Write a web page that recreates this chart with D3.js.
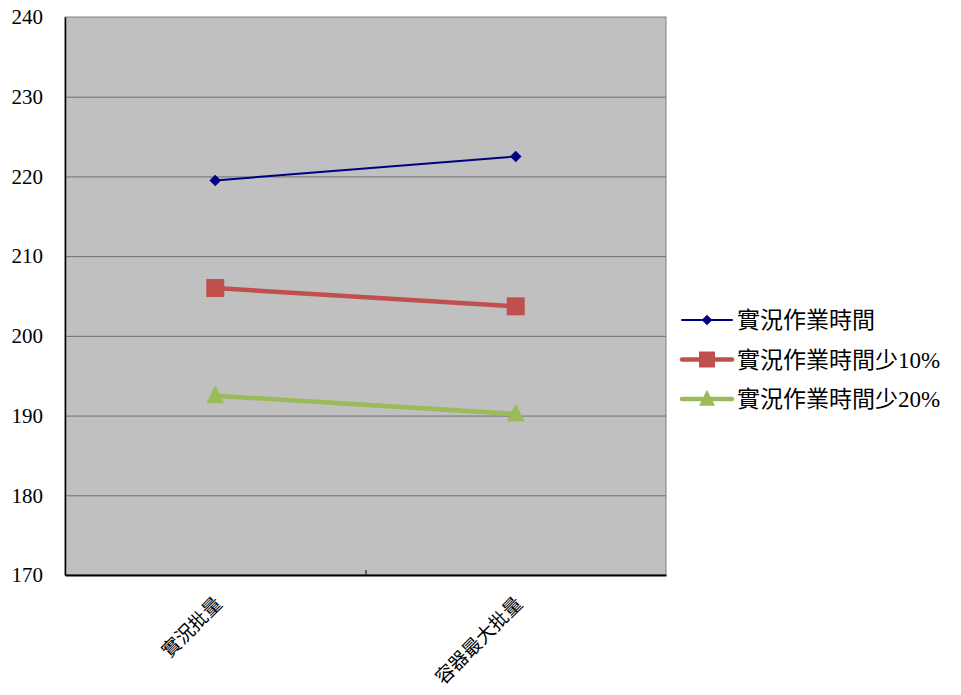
<!doctype html>
<html>
<head>
<meta charset="utf-8">
<style>
  body { margin: 0; background: #fff; }
  text { font-family: "Liberation Serif", "Noto Sans CJK TC", serif; fill: #000; }
  .ytick text { font-family: "Liberation Serif", "Times New Roman", "DejaVu Serif", serif !important; }
</style>
<script src="https://cdn.jsdelivr.net/npm/d3@7"></script>
</head>
<body>
<svg width="961" height="695"></svg>
<script>
var categories = ["實況批量", "容器最大批量"];
var seriesNames = ["實況作業時間", "實況作業時間少10%", "實況作業時間少20%"];
var actual = [219.5, 222.5];
var less10 = [206.0, 203.7];
var less20 = [192.5, 190.2];
var yTicks = [170, 180, 190, 200, 210, 220, 230, 240];

var series = [
  { name: seriesNames[0], values: actual, color: "#000080", width: 2, marker: "diamond", size: 13 },
  { name: seriesNames[1], values: less10, color: "#C0504D", width: 4.5, marker: "square", size: 18 },
  { name: seriesNames[2], values: less20, color: "#9BBB59", width: 4.5, marker: "triangle", size: 18 }
];

var svg = d3.select("svg");
var plotL = 65, plotR = 666, plotT = 17, plotB = 575;

var x = d3.scaleBand().domain(categories).range([plotL, plotR]);
var y = d3.scaleLinear().domain([170, 240]).range([plotB, plotT]);

// plot background
svg.append("rect")
   .attr("x", plotL).attr("y", plotT)
   .attr("width", plotR - plotL).attr("height", plotB - plotT)
   .attr("fill", "#c0c0c0")
   .attr("stroke", "#808080").attr("stroke-width", 1);

// gridlines
svg.append("g").selectAll("line")
   .data(yTicks.slice(1, -1))
   .enter().append("line")
   .attr("x1", plotL).attr("x2", plotR)
   .attr("y1", function(d) { return y(d) + 0.5; })
   .attr("y2", function(d) { return y(d) + 0.5; })
   .attr("stroke", "#6e6e6e").attr("stroke-width", 1);

// y axis
var yAxis = svg.append("g")
   .attr("class", "ytick")
   .attr("transform", "translate(" + plotL + ",0)")
   .call(d3.axisLeft(y).tickValues(yTicks).tickSize(0).tickPadding(22));
yAxis.attr("font-family", null).attr("font-size", null);
yAxis.select(".domain").attr("stroke", "#000").attr("stroke-width", 1.5);
yAxis.selectAll("text").style("font-size", "21px");

// x axis
var xAxis = svg.append("g")
   .attr("transform", "translate(0," + plotB + ")")
   .call(d3.axisBottom(x).tickSize(0).tickFormat(""));
xAxis.select(".domain").attr("stroke", "#000").attr("stroke-width", 2);
xAxis.append("line")
   .attr("x1", x(categories[1]) + 0.5).attr("x2", x(categories[1]) + 0.5)
   .attr("y1", -5).attr("y2", 0)
   .attr("stroke", "#000");

svg.append("g").selectAll("text")
   .data(categories)
   .enter().append("text")
   .attr("transform", function(d) {
     return "translate(" + (x(d) + x.bandwidth() / 2 + 8) + "," + (plotB + 30) + ") rotate(-45)";
   })
   .attr("text-anchor", "end")
   .attr("font-size", "19px")
   .text(function(d) { return d; });

function markerPath(type, size) {
  if (type === "diamond") return d3.symbol().type(d3.symbolDiamond2).size(size * size / 2)();
  if (type === "square") return d3.symbol().type(d3.symbolSquare).size(size * size)();
  var h = size, w = size;
  return "M0," + (-h * 0.58) + "L" + (w / 2) + "," + (h * 0.42) + "L" + (-w / 2) + "," + (h * 0.42) + "Z";
}

var line = d3.line()
   .x(function(d, i) { return x(categories[i]) + x.bandwidth() / 2; })
   .y(function(d) { return y(d); });

series.forEach(function(s) {
  var g = svg.append("g");
  g.append("path")
   .attr("d", line(s.values))
   .attr("fill", "none")
   .attr("stroke", s.color)
   .attr("stroke-width", s.width);
  g.selectAll("path.m")
   .data(s.values)
   .enter().append("path")
   .attr("class", "m")
   .attr("transform", function(d, i) {
     return "translate(" + (x(categories[i]) + x.bandwidth() / 2) + "," + y(d) + ")";
   })
   .attr("d", markerPath(s.marker, s.size))
   .attr("fill", s.color);
});

// legend
var legend = svg.append("g");
series.forEach(function(s, i) {
  var cy = 320 + i * 39.5;
  var row = legend.append("g");
  row.append("line")
     .attr("x1", 682).attr("x2", 732)
     .attr("y1", cy).attr("y2", cy)
     .attr("stroke", s.color).attr("stroke-width", s.width)
     .attr("stroke-linecap", "round");
  row.append("path")
     .attr("transform", "translate(707," + cy + ")")
     .attr("d", markerPath(s.marker, s.marker === "diamond" ? 12 : 16))
     .attr("fill", s.color);
  row.append("text")
     .attr("x", 737).attr("y", cy)
     .attr("dy", "0.36em")
     .attr("font-size", "23px")
     .text(s.name);
});
</script>
</body>
</html>
